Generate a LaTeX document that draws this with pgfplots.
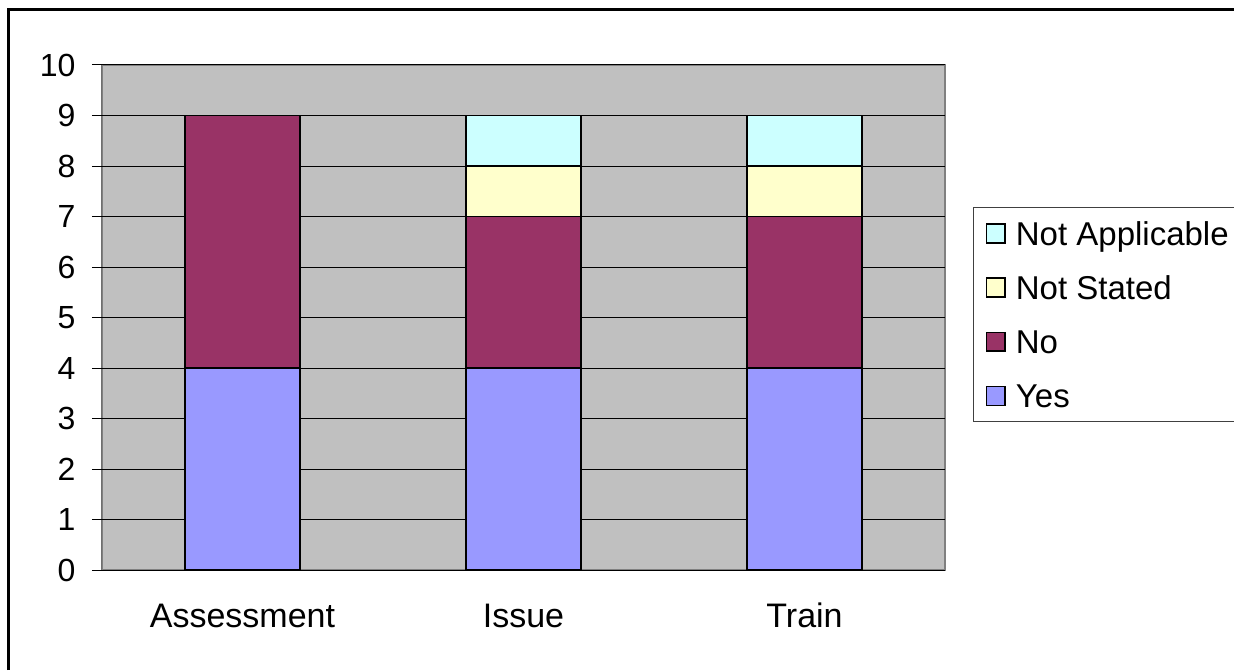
\documentclass[border=0pt]{standalone}
\usepackage{pgfplots}
\pgfplotsset{compat=1.18}
\usepackage{fontspec}
\setmainfont{Liberation Sans}

\definecolor{plotbg}{HTML}{C0C0C0}
\definecolor{plotframe}{HTML}{808080}
\definecolor{cYes}{HTML}{9999FF}
\definecolor{cNo}{HTML}{993366}
\definecolor{cNS}{HTML}{FFFFCC}
\definecolor{cNA}{HTML}{CCFFFF}

\begin{document}
\begin{tikzpicture}
\useasboundingbox (0,0) rectangle (617pt,335pt);
% outer chart frame
\draw[line width=1.5pt] (4pt,0) -- (4pt,330pt) -- (617pt,330pt);
\begin{axis}[
  at={(51pt,50pt)}, anchor=south west,
  scale only axis,
  width=421.5pt, height=252.5pt,
  ybar stacked,
  bar width=57.5pt,
  xmin=-0.5, xmax=2.5,
  ymin=0, ymax=10,
  ytick={0,1,...,10},
  xtick={0,1,2},
  xticklabels={Assessment,Issue,Train},
  xtick style={draw=none},
  extra x ticks={-0.5,0.5,1.5,2.5},
  extra x tick labels={},
  extra x tick style={grid=none, major tick length=5pt, tick style={draw=black, line width=0.5pt}},
  tick align=outside,
  tick pos=left,
  major tick length=5pt,
  ytick style={draw=black, line width=0.5pt},
  ymajorgrids,
  major grid style={draw=black, line width=0.5pt},
  axis line style={draw=none},
  axis background/.style={fill=plotbg, draw=plotframe, line width=1pt},
  yticklabel style={font=\fontsize{16}{19}\selectfont, xshift=-4.7pt},
  xticklabel style={font=\fontsize{17}{20}\selectfont, text height=12.2pt, text depth=0pt, yshift=-8.2pt},
  /pgf/number format/assume math mode=true,
  every axis plot/.append style={draw=black, line width=0.8pt},
  reverse legend,
  legend cell align=left,
  legend style={
    at={(1.0332,0.7188)}, anchor=north west,
    draw=black!75, line width=0.5pt, fill=white,
    font=\fontsize{16.5}{19}\selectfont,
    inner xsep=6pt, inner ysep=7pt,
    row sep=15.3pt, column sep=5pt,
    nodes={inner sep=0pt, text height=11.8pt, text depth=0pt, text width=114pt, align=flush left, line width=0.5pt},
  },
  legend image code/.code={\draw[#1, line width=0.8pt] (0pt,-4.7pt) rectangle (9.4pt,4.7pt);},
]
\addplot[fill=cYes] coordinates {(0,4) (1,4) (2,4)};
\addplot[fill=cNo]  coordinates {(0,5) (1,3) (2,3)};
\addplot[fill=cNS]  coordinates {(0,0) (1,1) (2,1)};
\addplot[fill=cNA]  coordinates {(0,0) (1,1) (2,1)};
\legend{Yes,No,Not Stated,Not Applicable}
\draw[black, line width=0.5pt] (rel axis cs:0,1) -- (rel axis cs:0,0) -- (rel axis cs:1,0);
\end{axis}
\end{tikzpicture}
\end{document}
